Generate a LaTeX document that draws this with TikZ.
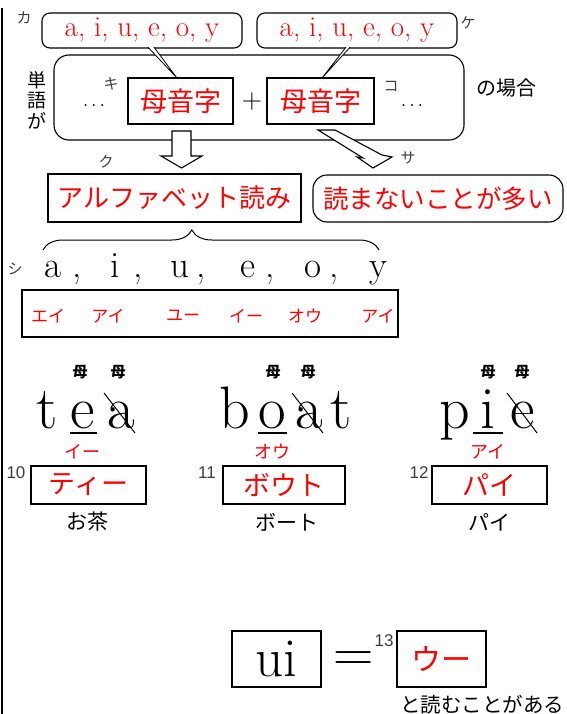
\documentclass[tikz,border=0pt]{standalone}
\usepackage{fontspec}
\newfontfamily\jp{Noto Sans CJK JP}
\newfontfamily\numf{Liberation Sans}
\usetikzlibrary{decorations.pathreplacing}
\definecolor{kred}{RGB}{255,0,0}
\definecolor{lblgray}{RGB}{60,60,60}
\newcommand\fs[1]{\fontsize{#1}{#1}\selectfont}
\begin{document}
\begin{tikzpicture}[x=1pt,y=-1pt,
  every node/.style={inner sep=0pt, outer sep=0pt},
  sqbox/.style={draw, line width=1.8pt},
  rndbox/.style={draw, line width=1.1pt, rounded corners=8pt},
  redt/.style={text=kred},
  lbl/.style={font=\jp\fs{15}, text=lblgray},
  num/.style={font=\numf\fs{17}, text=lblgray},
  bigl/.style={font=\fs{60}, anchor=base},
  rowl/.style={font=\fs{37}, anchor=base},
  kata/.style={text=kred, font=\jp\fs{17}},
  boh/.style={font=\jp\bfseries\fs{15}},
  reading/.style={text=kred, font=\jp\fs{18}},
  word/.style={font=\jp\fs{21}},
  wbox/.style={sqbox, minimum height=38pt, text=kred, font=\jp\fs{27}},
  strike/.style={line width=1pt},
  uline/.style={line width=2pt},
  dotsn/.style={font=\fs{24}},
  blockarrow/.style={fill=white, draw, line width=1.1pt, line join=miter}]
\useasboundingbox (0,0) rectangle (566,714);
% left rule
\coordinate (lt) at (2,8);
\coordinate (lb) at (2,714);
\draw[line width=2pt] (lt) -- (lb);

% big rounded box
\node[rndbox, rounded corners=15pt, minimum width=410pt, minimum height=85pt] (big) at (259,97.5) {};
% callouts
\node[rndbox, minimum width=200pt, minimum height=35pt, text=kred, font=\fs{29}] (c1) at (142,30.5) {a, i, u, e, o, y};
\node[rndbox, minimum width=200pt, minimum height=35pt, text=kred, font=\fs{29}] (c2) at (357,30.5) {a, i, u, e, o, y};
% vowel boxes
\node[sqbox, minimum width=105pt, minimum height=46pt, text=kred, font=\jp\fs{27}] (v1) at (180.5,101) {母音字};
\node[sqbox, minimum width=107pt, minimum height=46pt, text=kred, font=\jp\fs{27}] (v2) at (320.5,101) {母音字};
% callout pointers
\filldraw[fill=white, line width=0.8pt] ([xshift=6pt,yshift=0.8pt]c1.south) -- ([xshift=-3.5pt]v1.north) -- ([xshift=12pt,yshift=0.8pt]c1.south);
\filldraw[fill=white, line width=0.8pt] ([xshift=-11pt,yshift=0.8pt]c2.south) -- ([xshift=1.5pt]v2.north) -- ([xshift=-7pt,yshift=0.8pt]c2.south);

\node[font=\fs{28}] (plus) at (252,102) {+};
\node[dotsn] (d1) at (94,106) {.\hspace{2.5pt}.\hspace{2.5pt}.};
\node[dotsn] (d2) at (412,106) {.\hspace{2.5pt}.\hspace{2.5pt}.};
\node[font=\jp\fontsize{19}{20.5}\selectfont, align=center] (tango) at (37,100) {単\\語\\が};
\node[font=\jp\fs{20}] (baai) at (506,88) {の場合};

\node[lbl] (lka) at (24,18) {カ};
\node[lbl] (lki) at (111,84) {キ};
\node[lbl] (lku) at (106,162) {ク};
\node[lbl] (lke) at (468,23) {ケ};
\node[lbl] (lko) at (391,86) {コ};
\node[lbl] (lsa) at (408,158) {サ};
\node[lbl] (lshi) at (15,269) {シ};

% block arrows
\filldraw[blockarrow] (172,131) -- (191,131) -- (191,156) -- (202,156) -- (181.5,168) -- (161,156) -- (172,156) -- cycle;
\filldraw[blockarrow] (318,130) -- (335,130) -- (382,155) -- (392,157) -- (373,168) -- (357,157) -- (363,158) -- cycle;

% result boxes
\node[sqbox, minimum width=253pt, minimum height=48pt, text=kred, font=\jp\fs{26}] (alpha) at (174.5,198) {アルファベット読み};
\node[rndbox, rounded corners=14pt, minimum width=250pt, minimum height=47pt, text=kred, font=\jp\fs{25.5}] (yom) at (438,198.5) {読まないことが多い};

% brace
\coordinate (br1) at (43,250);
\coordinate (br2) at (379,250);
\draw[line width=1pt, decorate, decoration={brace, amplitude=20pt, aspect=0.443}] (br1) -- (br2);

% letter row
\node[rowl] (ra) at (53,277) {a};
\node[rowl] (rc1) at (77,277) {,};
\node[rowl] (ri) at (115,277) {i};
\node[rowl] (rc2) at (138,277) {,};
\node[rowl] (ru) at (180,277) {u};
\node[rowl] (rc3) at (201,277) {,};
\node[rowl] (re) at (248,277) {e};
\node[rowl] (rc4) at (270,277) {,};
\node[rowl] (ro) at (313,277) {o};
\node[rowl] (rc5) at (334,277) {,};
\node[rowl] (ry) at (378,277) {y};

\node[sqbox, minimum width=376pt, minimum height=47pt] (kbox) at (210,313.5) {};
\node[kata] (k1) at (48,316) {エイ};
\node[kata] (k2) at (108,316) {アイ};
\node[kata] (k3) at (183,316) {ユー};
\node[kata] (k4) at (246,316) {イー};
\node[kata] (k5) at (305,316) {オウ};
\node[kata] (k6) at (378,316) {アイ};

% vowel marks
\node[boh] (m1) at (80,372) {母};
\node[boh] (m2) at (118,372) {母};
\node[boh] (m3) at (273,372) {母};
\node[boh] (m4) at (308,372) {母};
\node[boh] (m5) at (488,372) {母};
\node[boh] (m6) at (522,372) {母};

% tea
\node[bigl] (t1) at (47,428) {t};
\node[bigl] (e1) at (83,428) {e};
\node[bigl] (a1) at (121,428) {a};
\draw[uline] ([shift={(-13,5)}]e1.base) -- ([shift={(14,5)}]e1.base);
\draw[strike] ([shift={(-17,-35)}]a1.base) -- ([shift={(14,5)}]a1.base);
% boat
\node[bigl] (b2) at (235,428) {b};
\node[bigl] (o2) at (272,428) {o};
\node[bigl] (a2) at (309,428) {a};
\node[bigl] (t2) at (341,428) {t};
\draw[uline] ([shift={(-14,5)}]o2.base) -- ([shift={(15,5)}]o2.base);
\draw[strike] ([shift={(-17,-35)}]a2.base) -- ([shift={(14,5)}]a2.base);
% pie
\node[bigl] (p3) at (455,428) {p};
\node[bigl] (i3) at (488,428) {i};
\node[bigl] (e3) at (523,428) {e};
\draw[uline] ([shift={(-15,5)}]i3.base) -- ([shift={(15,5)}]i3.base);
\draw[strike] ([shift={(-16,-35)}]e3.base) -- ([shift={(14,5)}]e3.base);

\node[reading] (rd1) at (82,452) {イー};
\node[reading] (rd2) at (272,452) {オウ};
\node[reading] (rd3) at (488,452) {アイ};

\node[wbox, minimum width=115pt] (w1) at (88.5,485) {ティー};
\node[wbox, minimum width=122pt] (w2) at (284,485) {ボウト};
\node[wbox, minimum width=115pt] (w3) at (489.5,485) {パイ};
\node[num] (n10) at (16,473) {10};
\node[num] (n11) at (207,473) {11};
\node[num] (n12) at (419,473) {12};
\node[word] (j1) at (87.5,522) {お茶};
\node[word] (j2) at (287,522) {ボート};
\node[word] (j3) at (489,522) {パイ};

% bottom
\node[sqbox, minimum width=89pt, minimum height=56pt, font=\fs{55}] (ui) at (276.5,659) {ui};
\node[font=\fs{56}] (eq) at (354,662) {=};
\node[num] (n13) at (384,641) {13};
\node[sqbox, minimum width=89pt, minimum height=56pt, text=kred, font=\jp\fs{30}] (uu) at (441.5,659) {ウー};
\node[font=\jp\fs{20.5}, anchor=east] (tail) at (564,705) {と読むことがある};
\end{tikzpicture}
\end{document}
